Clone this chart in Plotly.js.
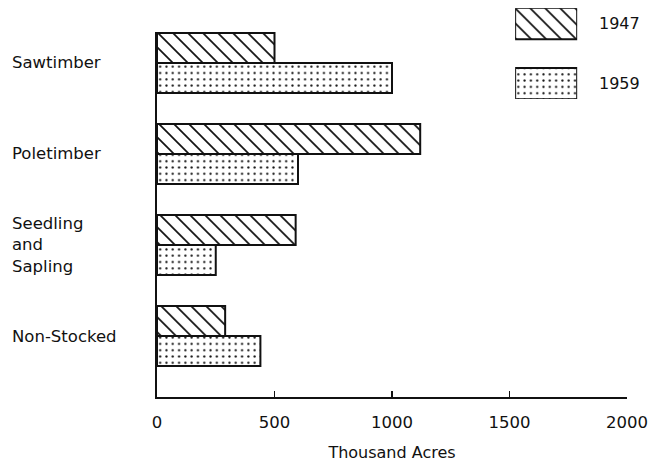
<!DOCTYPE html>
<html>
<head>
<meta charset="utf-8">
<script src="https://cdn.plot.ly/plotly-3.0.1.min.js"></script>
<style>html,body{margin:0;padding:0;background:#fff;}#chart{width:658px;height:462px;}</style>
</head>
<body>
<div id="chart"></div>
<script>
var categories = ["Sawtimber", "Poletimber", "Seedling and Sapling", "Non-Stocked"];
var categoryLabels = ["Sawtimber", "Poletimber", "Seedling<br>and<br>Sapling", "Non-Stocked"];
var years = ["1947", "1959"];
var values1947 = [500, 1120, 590, 290];
var values1959 = [1000, 600, 250, 440];
var xTicks = [0, 500, 1000, 1500, 2000];
var xTitle = "Thousand Acres";

var FONT = "DejaVu Sans, sans-serif";
var hatch = {shape: "\\", size: 10.6, solidity: 0.16, fgcolor: "#111", bgcolor: "#fff", fillmode: "replace"};
var dots = {shape: ".", size: 6.3, solidity: 0.1, fgcolor: "#111", bgcolor: "#fff", fillmode: "replace"};
var outline = {color: "#111", width: 2};

var traces = [
  {type: "bar", orientation: "h", name: years[0], y: categories, x: values1947,
   marker: {color: "#fff", pattern: hatch, line: outline}, xaxis: "x", yaxis: "y", hoverinfo: "x"},
  {type: "bar", orientation: "h", name: years[1], y: categories, x: values1959,
   marker: {color: "#fff", pattern: dots, line: outline}, xaxis: "x", yaxis: "y", hoverinfo: "x"},
  // legend swatches
  {type: "bar", orientation: "h", y: [years[0]], x: [1], width: 0.52, offset: -0.26,
   marker: {color: "#fff", pattern: hatch, line: outline}, xaxis: "x2", yaxis: "y2", hoverinfo: "skip"},
  {type: "bar", orientation: "h", y: [years[1]], x: [1], width: 0.52, offset: -0.26,
   marker: {color: "#fff", pattern: dots, line: outline}, xaxis: "x2", yaxis: "y2", hoverinfo: "skip"}
];

var annotations = categories.map(function (c, i) {
  return {xref: "paper", yref: "y", x: -0.312, y: i, xanchor: "left", yanchor: "middle", align: "left",
          text: categoryLabels[i], showarrow: false, font: {family: FONT, size: 16.5, color: "#111"}};
});
years.forEach(function (yr, i) {
  annotations.push({xref: "x2 domain", yref: "y2", x: 1, xshift: 20, y: i, xanchor: "left", yanchor: "middle",
                    text: yr, showarrow: false, font: {family: FONT, size: 16, color: "#111"}});
});

var hiddenAxis = {showline: false, showticklabels: false, showgrid: false, zeroline: false, ticks: "", fixedrange: true};

var layout = {
  width: 658, height: 462,
  margin: {l: 157, r: 31, t: 5, b: 65},
  paper_bgcolor: "#fff", plot_bgcolor: "#fff",
  showlegend: false,
  barmode: "group",
  bargap: 0.34,
  bargroupgap: 0,
  font: {family: FONT, size: 16, color: "#111"},
  xaxis: {range: [0, 2000], tickvals: xTicks, ticktext: xTicks.map(String),
          ticks: "inside", ticklen: 6, tickwidth: 1.5, tickcolor: "#111",
          showline: true, linecolor: "#111", linewidth: 1.8, showgrid: false, zeroline: false,
          ticklabelstandoff: 9,
          title: {text: xTitle, font: {family: FONT, size: 16, color: "#111"}, standoff: 18},
          tickfont: {family: FONT, size: 16.5, color: "#111"}, fixedrange: true},
  yaxis: {type: "category", categoryorder: "array", categoryarray: categories,
          range: [3.67, -0.34], domain: [0, 0.931],
          showticklabels: false, ticks: "", showline: true, linecolor: "#111", linewidth: 1.8,
          showgrid: false, zeroline: false, fixedrange: true},
  xaxis2: Object.assign({anchor: "y2", domain: [0.762, 0.894], range: [0, 1]}, hiddenAxis),
  yaxis2: Object.assign({anchor: "x2", type: "category", categoryorder: "array", categoryarray: years,
           domain: [0.760, 0.992], range: [1.258, -0.258]}, hiddenAxis),
  annotations: annotations
};

Plotly.newPlot("chart", traces, layout, {displayModeBar: false, staticPlot: true});
</script>
</body>
</html>
